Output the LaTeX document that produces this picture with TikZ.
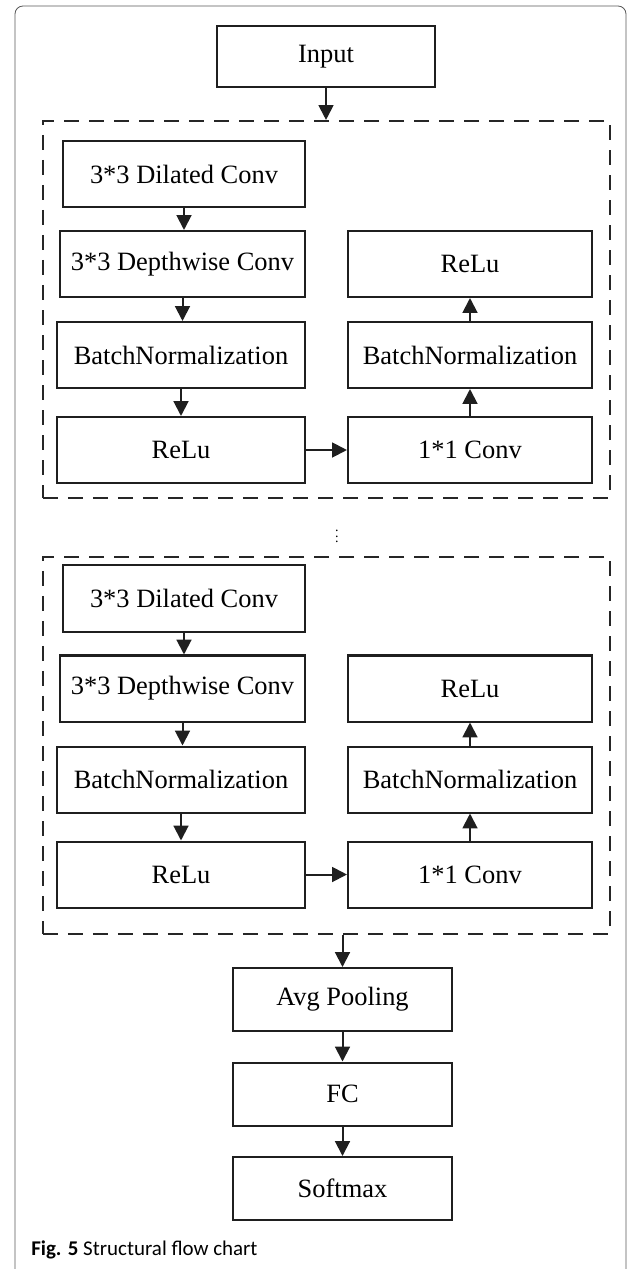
\documentclass[tikz,border=0pt]{standalone}
\usepackage{fontspec}
\setmainfont{Liberation Serif}
\newfontfamily\capfont{Carlito}
\usetikzlibrary{arrows.meta,positioning,calc}
\tikzset{
  blockbox/.style={draw=black!88, line width=0.05cm, inner sep=0pt, minimum height=1.65cm, font=\fontsize{18.8}{22}\selectfont},
  groupbox/.style={draw=black!85, line width=0.05cm, dash pattern=on 0.375cm off 0.25cm, minimum width=14.175cm, minimum height=9.425cm, inner sep=0pt},
  flowln/.style={-{Triangle[length=0.37cm,width=0.37cm]}, line width=0.05cm, black!88},
  frameln/.style={line width=0.6pt, black!65, rounded corners=0.2cm},
}

\begin{document}
\begin{tikzpicture}[x=0.025cm, y=0.025cm]
    \useasboundingbox (0,0) rectangle (639,-1269);
    \draw[frameln] (15,-1269) -- (15,-6) -- (626,-6) -- (626,-1269);

    \node[blockbox, minimum width=5.45cm, minimum height=1.525cm] (inp) at (326,-56.5) {Input};

    \foreach \i/\dy/\gy in {1/0/309.5, 2/424.5/745.5} {
      \node[groupbox] (grp\i) at (326.5,-\gy) {};
      \node[blockbox, minimum width=6.05cm] (dil\i) at (184,-174-\dy) {3*3 Dilated Conv};
      \node[blockbox, minimum width=6.125cm] (dw\i) at (182.5,-264-\dy) {3*3 Depthwise Conv};
      \node[blockbox, minimum width=6.2cm] (bnl\i) at (181,-355-\dy) {BatchNormalization};
      \node[blockbox, minimum width=6.2cm] (rel\i) at (181,-450-\dy) {ReLu};
      \node[blockbox, minimum width=6.1cm] (pw\i) at (470,-450-\dy) {1*1 Conv};
      \node[blockbox, minimum width=6.1cm] (bnr\i) at (470,-355-\dy) {BatchNormalization};
      \node[blockbox, minimum width=6.1cm] (rer\i) at (470,-264-\dy) {ReLu};
      \draw[flowln] (dil\i.south) -- (dil\i.south |- dw\i.north);
      \draw[flowln] (dw\i.south) -- (dw\i.south |- bnl\i.north);
      \draw[flowln] (bnl\i.south) -- (bnl\i.south |- rel\i.north);
      \draw[flowln] (rel\i) -- (pw\i);
      \draw[flowln] (pw\i) -- (bnr\i);
      \draw[flowln] (bnr\i) -- (rer\i);
    }

    \node (dots) at (337,-532.5) {$\vdots$};

    \node[blockbox, minimum width=5.475cm, minimum height=1.575cm] (avg) at (342.5,-999.5) {Avg Pooling};
    \node[blockbox, minimum width=5.475cm, minimum height=1.575cm] (fc) at (342.5,-1094) {FC};
    \node[blockbox, minimum width=5.475cm, minimum height=1.575cm] (sm) at (342.5,-1188.5) {Softmax};

    \draw[flowln] (inp.south) -- (inp.south |- grp1.north);
    \draw[flowln] (grp2.south -| avg.north) -- (avg.north);
    \draw[flowln] (avg) -- (fc);
    \draw[flowln] (fc) -- (sm);

    \node[anchor=west, inner sep=0pt, font=\capfont\fontsize{14.9}{17}\selectfont] (cap) at (31,-1250) {\textbf{Fig. 5} Structural flow chart};
\end{tikzpicture}
\end{document}
